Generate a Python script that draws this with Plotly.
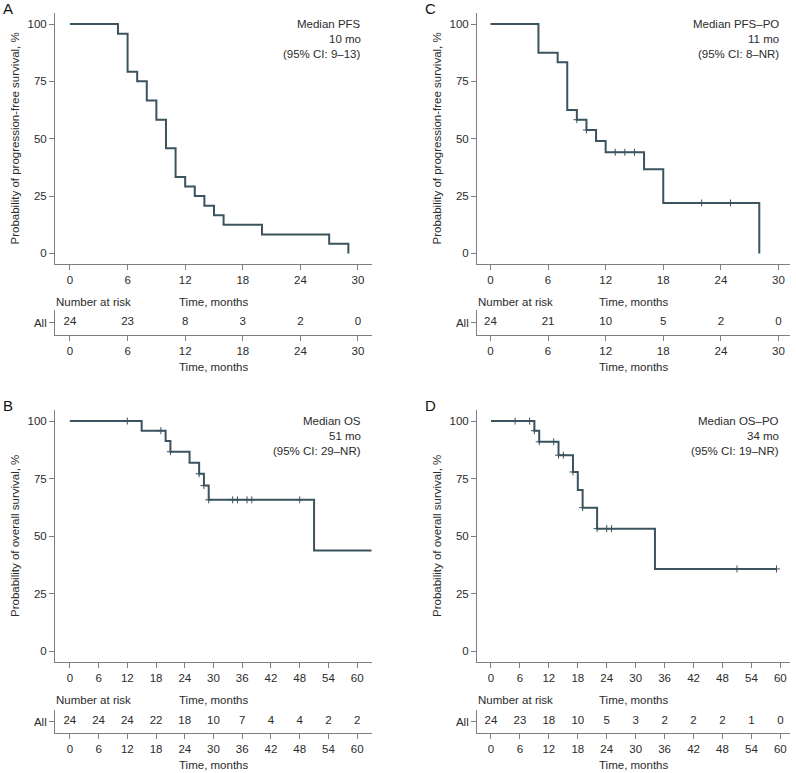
import plotly.graph_objects as go

W, H = 796, 773

# ---- data ----
pfs_time = [0, 5, 6, 7, 8, 9, 10, 11, 12, 13, 14, 15, 16, 20, 27, 29]
pfs_surv = [100, 95.8, 79.2, 75, 66.7, 58.3, 45.8, 33.3, 29.2, 25, 20.8, 16.7, 12.5, 8.3, 4.2, 0]
pfs_cens_time = []
pfs_cens_surv = []
pfs_risk = [24, 23, 8, 3, 2, 0]

pfspo_time = [0, 5, 7, 8, 9, 10, 11, 12, 16, 18, 28]
pfspo_surv = [100, 87.5, 83.3, 62.5, 58.3, 53.8, 49.0, 44.1, 36.7, 22.0, 0]
pfspo_cens_time = [9, 10, 13, 14, 15, 22, 25]
pfspo_cens_surv = [58.3, 53.8, 44.1, 44.1, 44.1, 22.0, 22.0]
pfspo_risk = [24, 21, 10, 5, 2, 0]

os_time = [0, 15, 20, 21, 25, 27, 28, 29, 51, 63]
os_surv = [100, 95.8, 91.3, 86.7, 81.9, 77.1, 72.0, 65.8, 43.8, 43.8]
os_cens_time = [12, 19, 21, 27, 28, 29, 34, 35, 37, 38, 48]
os_cens_surv = [100, 95.8, 86.7, 77.1, 72.0, 65.8, 65.8, 65.8, 65.8, 65.8, 65.8]
os_risk = [24, 24, 24, 22, 18, 10, 7, 4, 4, 2, 2]

ospo_time = [0, 9, 10, 14, 17, 18, 19, 22, 34, 59.2]
ospo_surv = [100, 95.8, 91.0, 85.2, 77.9, 70.1, 62.4, 53.3, 35.8, 35.8]
ospo_cens_time = [5, 8, 9, 10, 13, 14, 15, 17, 19, 22, 24, 25, 51, 59.2]
ospo_cens_surv = [100, 100, 95.8, 91.0, 91.0, 85.2, 85.2, 77.9, 62.4, 53.3, 53.3, 53.3, 35.8, 35.8]
ospo_risk = [24, 23, 18, 10, 5, 3, 2, 2, 2, 1, 0]

ticks30 = [0, 6, 12, 18, 24, 30]
ticks60 = [0, 6, 12, 18, 24, 30, 36, 42, 48, 54, 60]
yticks = [0, 25, 50, 75, 100]

panels = [
    dict(letter="A", t=pfs_time, s=pfs_surv, ct=pfs_cens_time, cs=pfs_cens_surv, risk=pfs_risk,
         xt=ticks30, med=["Median PFS", "10 mo", "(95% CI: 9\u201313)"],
         ytitle="Probability of progression-free survival, %"),
    dict(letter="C", t=pfspo_time, s=pfspo_surv, ct=pfspo_cens_time, cs=pfspo_cens_surv, risk=pfspo_risk,
         xt=ticks30, med=["Median PFS\u2013PO", "11 mo", "(95% CI: 8\u2013NR)"],
         ytitle="Probability of progression-free survival, %"),
    dict(letter="B", t=os_time, s=os_surv, ct=os_cens_time, cs=os_cens_surv, risk=os_risk,
         xt=ticks60, med=["Median OS", "51 mo", "(95% CI: 29\u2013NR)"],
         ytitle="Probability of overall survival, %"),
    dict(letter="D", t=ospo_time, s=ospo_surv, ct=ospo_cens_time, cs=ospo_cens_surv, risk=ospo_risk,
         xt=ticks60, med=["Median OS\u2013PO", "34 mo", "(95% CI: 19\u2013NR)"],
         ytitle="Probability of overall survival, %"),
]

# ---- layout geometry (pixels) ----
FONT = "Liberation Sans, Arial, sans-serif"
FS = 11.5
TXT = "#2b2b2b"
AX = "#7f7f7f"
CURVE = "#3b535e"

def px(x):
    return x / W

def py(y):
    return 1 - y / H

# (left, right, main top, main bottom, risk top, risk bottom, x range)
geo = [
    (55, 372, 13, 264, 310, 335, [-1.56, 31.46]),
    (477, 790, 13, 264, 310, 335, [-1.4, 31.2]),
    (55, 372, 410, 662, 710, 733, [-3.1, 63.1]),
    (477, 790, 410, 662, 710, 733, [-2.9, 62.0]),
]

fig = go.Figure()
annotations = []
layout_axes = {}

for i, (p, g) in enumerate(zip(panels, geo)):
    left, right, top, bot, rtop, rbot, xr = g
    mi = 2 * i + 1
    ri = 2 * i + 2
    mx, my = "x%d" % mi, "y%d" % mi
    rx, ry = "x%d" % ri, "y%d" % ri

    fig.add_trace(go.Scatter(x=p["t"], y=p["s"], mode="lines", line_shape="hv",
                             line=dict(color=CURVE, width=2), xaxis=mx, yaxis=my,
                             showlegend=False, hoverinfo="skip"))
    if p["ct"]:
        fig.add_trace(go.Scatter(x=p["ct"], y=p["cs"], mode="markers",
                                 marker=dict(symbol="cross-thin", size=5, color=CURVE,
                                             line=dict(color=CURVE, width=1)),
                                 xaxis=mx, yaxis=my, showlegend=False, hoverinfo="skip"))
    fig.add_trace(go.Scatter(x=p["xt"], y=[0] * len(p["xt"]), mode="text",
                             text=[str(v) for v in p["risk"]],
                             textfont=dict(family=FONT, size=FS, color=TXT),
                             xaxis=rx, yaxis=ry, showlegend=False, hoverinfo="skip"))

    common_x = dict(range=xr, tickvals=p["xt"], ticks="outside", ticklen=5, tickcolor=AX,
                    showline=True, linecolor=AX, linewidth=1, showgrid=False, zeroline=False,
                    automargin=False,
                    tickfont=dict(family=FONT, size=FS, color=TXT), fixedrange=True)
    common_y = dict(ticks="outside", ticklen=5, tickcolor=AX,
                    showline=True, linecolor=AX, linewidth=1,
                    showgrid=False, zeroline=False, automargin=False,
                    tickfont=dict(family=FONT, size=FS, color=TXT), fixedrange=True)
    layout_axes["xaxis%d" % mi] = dict(common_x, domain=[px(left), px(right)], anchor=my)
    layout_axes["yaxis%d" % mi] = dict(common_y, domain=[py(bot), py(top)], anchor=mx,
                                       range=[-4.6, 104.8], tickvals=yticks)
    layout_axes["xaxis%d" % ri] = dict(common_x, domain=[px(left), px(right)], anchor=ry)
    layout_axes["yaxis%d" % ri] = dict(common_y, domain=[py(rbot), py(rtop)], anchor=rx,
                                       range=[-1, 1], tickvals=[0], ticktext=["All"])

    # panel letter
    annotations.append(dict(text=p["letter"], x=px(left - 54), y=py(top - 5), xref="paper", yref="paper",
                            xanchor="left", yanchor="middle", showarrow=False,
                            font=dict(family=FONT, size=15, color="#111")))
    # median box
    for k, line in enumerate(p["med"]):
        annotations.append(dict(text=line, x=px(right - 9), y=py(top + 11 + 15 * k),
                                xref="paper", yref="paper", xanchor="right", yanchor="middle",
                                showarrow=False, font=dict(family=FONT, size=FS, color=TXT)))
    # y title
    annotations.append(dict(text=p["ytitle"], x=px(left - 40), y=py((top + bot) / 2),
                            xref="paper", yref="paper", xanchor="center", yanchor="middle",
                            textangle=-90, showarrow=False,
                            font=dict(family=FONT, size=FS, color=TXT)))
    mid = (left + right) / 2
    annotations.append(dict(text="Number at risk", x=px(left - 1), y=py(bot + 38),
                            xref="paper", yref="paper", xanchor="left", yanchor="middle",
                            showarrow=False, font=dict(family=FONT, size=FS, color=TXT)))
    annotations.append(dict(text="Time, months", x=px(mid), y=py(bot + 38),
                            xref="paper", yref="paper", xanchor="center", yanchor="middle",
                            showarrow=False, font=dict(family=FONT, size=FS, color=TXT)))
    annotations.append(dict(text="Time, months", x=px(mid), y=py(rbot + 32),
                            xref="paper", yref="paper", xanchor="center", yanchor="middle",
                            showarrow=False, font=dict(family=FONT, size=FS, color=TXT)))

fig.update_layout(width=W, height=H, margin=dict(l=0, r=0, t=0, b=0),
                  paper_bgcolor="white", plot_bgcolor="white",
                  font=dict(family=FONT, size=FS, color=TXT),
                  annotations=annotations, **layout_axes)

# the page body has a default 8px margin; drop it so the figure sits at the window corner
fig.write_html("out.html", config={"displayModeBar": False},
               post_script="document.body.style.margin='0px';")
